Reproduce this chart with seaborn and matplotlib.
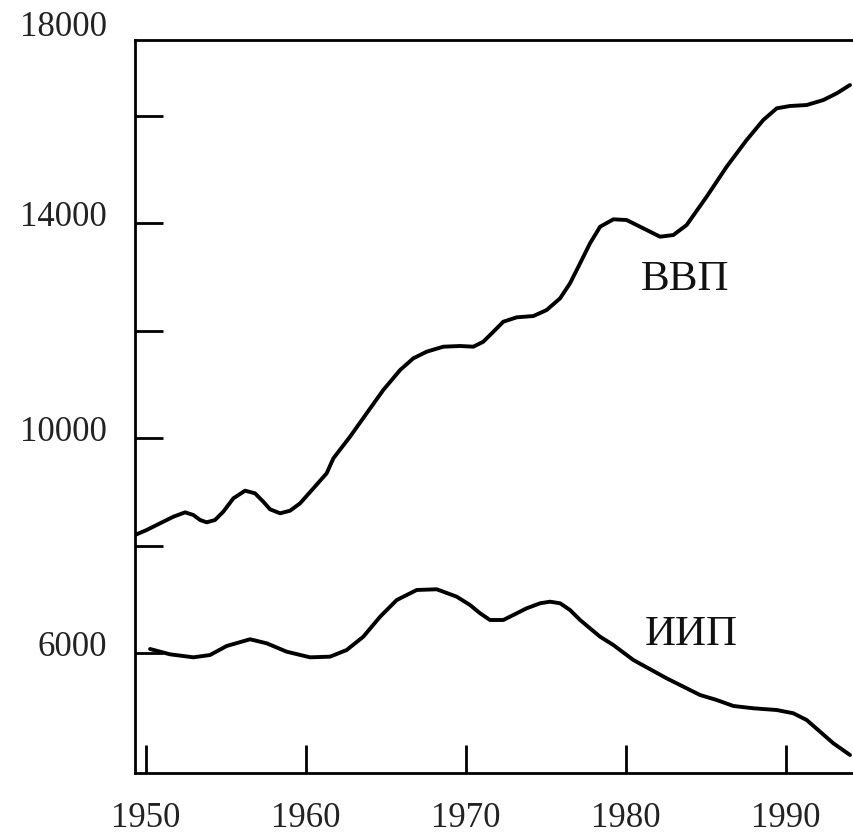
import matplotlib
matplotlib.use("Agg")
import matplotlib.pyplot as plt
import matplotlib.transforms as mtransforms
import seaborn as sns
import pandas as pd

# ---- data ----
gdp_years = [1949.31, 1950.04, 1950.88, 1951.71, 1952.44, 1952.96, 1953.38, 1953.79,
             1954.31, 1954.83, 1955.46, 1956.19, 1956.81, 1957.33, 1957.75, 1958.38,
             1959.0, 1959.63, 1960.46, 1961.29, 1961.71, 1962.75, 1963.79, 1964.83,
             1965.88, 1966.71, 1967.54, 1968.58, 1969.63, 1970.46, 1971.08, 1971.71,
             1972.33, 1973.17, 1974.21, 1975.04, 1975.88, 1976.5, 1977.13, 1977.75,
             1978.38, 1979.21, 1980.04, 1981.08, 1982.13, 1982.96, 1983.79, 1985.04,
             1986.29, 1987.54, 1988.58, 1989.42, 1990.25, 1991.29, 1992.33, 1993.17,
             1994.0]
gdp_values = [8198, 8291, 8416, 8538, 8620, 8570, 8477, 8434,
              8477, 8632, 8881, 9023, 8974, 8818, 8676, 8602,
              8650, 8788, 9067, 9347, 9626, 10028, 10464, 10898,
              11270, 11488, 11611, 11704, 11717, 11704, 11797, 11983,
              12169, 12251, 12275, 12387, 12605, 12884, 13257, 13629,
              13938, 14076, 14063, 13908, 13752, 13784, 13970, 14497,
              15055, 15553, 15925, 16143, 16186, 16204, 16297, 16422,
              16577]

iip_years = [1950.25, 1951.5, 1952.96, 1954.0, 1955.04, 1956.5, 1957.54, 1958.79,
             1960.25, 1961.5, 1962.54, 1963.58, 1964.63, 1965.67, 1966.92, 1968.17,
             1969.42, 1970.25, 1970.88, 1971.5, 1972.33, 1973.17, 1973.79, 1974.63,
             1975.25, 1975.88, 1976.5, 1977.13, 1977.75, 1978.38, 1979.21, 1980.46,
             1982.54, 1984.63, 1985.67, 1986.71, 1987.96, 1989.42, 1990.46, 1991.29,
             1992.13, 1992.96, 1994.0]
iip_values = [6075, 5976, 5920, 5963, 6131, 6256, 6181, 6025,
              5920, 5932, 6056, 6304, 6676, 6987, 7174, 7187,
              7049, 6894, 6740, 6615, 6615, 6740, 6833, 6926,
              6956, 6926, 6801, 6615, 6460, 6304, 6149, 5870,
              5529, 5218, 5125, 5014, 4971, 4939, 4878, 4753,
              4535, 4319, 4101]

x_ticks = [1950, 1960, 1970, 1980, 1990]
x_tick_labels = ["1950", "1960", "1970", "1980", "1990"]
y_ticks = [6000, 8000, 10000, 12000, 14000, 16000]
y_tick_labels = ["6000", "", "10000", "", "14000", ""]
top_label = "18000"
series_names = ["ВВП", "ИИП"]

# ---- build data frame ----
df = pd.concat([
    pd.DataFrame({"year": gdp_years, "value": gdp_values, "series": series_names[0]}),
    pd.DataFrame({"year": iip_years, "value": iip_values, "series": series_names[1]}),
])

sns.set_theme(style="white")
plt.rcParams["font.family"] = ["Liberation Serif", "DejaVu Serif"]

fig = plt.figure(figsize=(8.54, 8.35), dpi=100)
ax = fig.add_axes([135 / 854, 62 / 835, (854 - 135) / 854 + 0.01, (773 - 40) / 835])

sns.lineplot(data=df, x="year", y="value", units="series", estimator=None,
             color="black", linewidth=2.8, ax=ax, legend=False,
             solid_joinstyle="round", solid_capstyle="round")

ax.set_xlim(1949.31, 1994.25 + 0.534)
ax.set_ylim(3766, 17415)

ax.set_xticks(x_ticks)
ax.set_xticklabels(x_tick_labels)
ax.set_yticks(y_ticks)
ax.set_yticklabels(y_tick_labels)
ax.set_xlabel("")
ax.set_ylabel("")

for side in ["left", "bottom", "top"]:
    ax.spines[side].set_visible(True)
    ax.spines[side].set_color("black")
    ax.spines[side].set_linewidth(2.0)
ax.spines["right"].set_visible(False)

ax.tick_params(axis="both", which="major", bottom=True, left=True, top=False, right=False,
               direction="in", length=20, width=2.0, color="black",
               labelsize=25, labelcolor="#222222")
ax.tick_params(axis="y", pad=20)
ax.tick_params(axis="x", pad=21)

shift = mtransforms.ScaledTranslation(0, 10 / 100, fig.dpi_scale_trans)
for lab in ax.get_yticklabels():
    lab.set_transform(lab.get_transform() + shift)

ax.annotate(top_label, xy=(0, 1), xycoords="axes fraction",
            xytext=(-20, 9), textcoords="offset points",
            ha="right", va="center", fontsize=25, color="#222222")

ax.text(1983.7, 12760, series_names[0], fontsize=31, ha="center", va="baseline",
        color="#111111")
ax.text(1984.1, 6150, series_names[1], fontsize=31, ha="center", va="baseline",
        color="#111111")

fig.savefig("out.png", dpi=100)
